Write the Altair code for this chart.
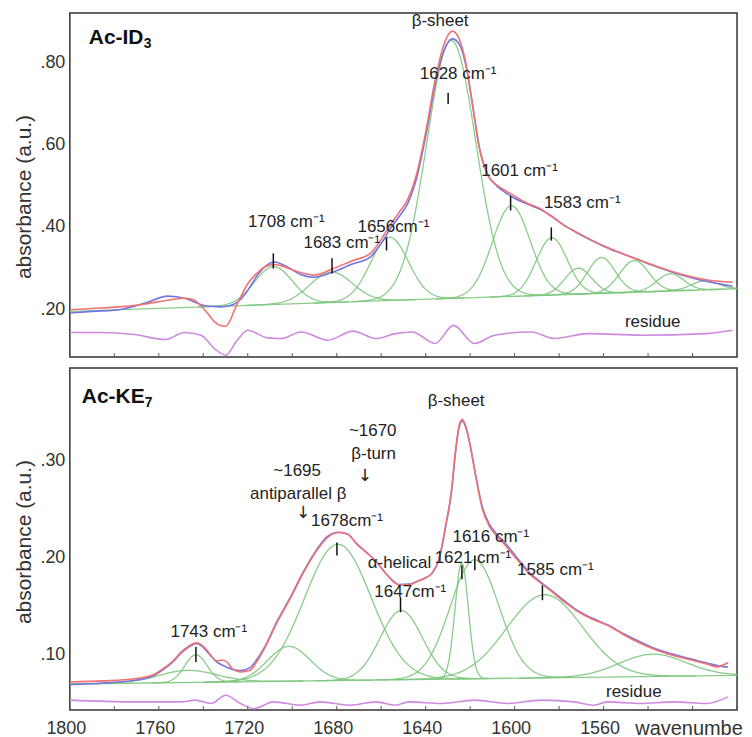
import altair as alt
import numpy as np
import pandas as pd

# ---------------- Top panel: Ac-ID3 ----------------
TOP_W = [1800, 1790, 1778, 1766, 1756, 1748, 1744, 1741, 1738, 1735, 1732, 1730, 1728, 1726, 1723,
         1720, 1716, 1712, 1708, 1702, 1696, 1690, 1682, 1673, 1665, 1660, 1656, 1652, 1648, 1644,
         1640, 1636, 1632, 1628, 1625, 1622, 1619, 1616, 1612, 1608, 1604, 1600, 1594, 1589, 1583,
         1578, 1572, 1566, 1559, 1552, 1545, 1538, 1530, 1522, 1514, 1508, 1502]
TOP_RED = [0.199, 0.202, 0.206, 0.213, 0.222, 0.227, 0.222, 0.208, 0.190, 0.170, 0.160, 0.159, 0.172, 0.198, 0.232,
           0.262, 0.287, 0.304, 0.309, 0.300, 0.289, 0.283, 0.298, 0.318, 0.335, 0.370, 0.405, 0.435, 0.468, 0.530,
           0.630, 0.750, 0.840, 0.876, 0.858, 0.800, 0.700, 0.595, 0.525, 0.502, 0.488, 0.475, 0.457, 0.446, 0.424,
           0.405, 0.387, 0.370, 0.352, 0.336, 0.322, 0.308, 0.293, 0.281, 0.272, 0.268, 0.266]
TOP_BLUE = [0.191, 0.195, 0.199, 0.215, 0.232, 0.226, 0.218, 0.211, 0.208, 0.207, 0.206, 0.207, 0.209, 0.213, 0.225,
            0.246, 0.280, 0.305, 0.315, 0.302, 0.284, 0.278, 0.290, 0.310, 0.327, 0.360, 0.395, 0.425, 0.458, 0.520,
            0.620, 0.740, 0.825, 0.857, 0.845, 0.795, 0.700, 0.597, 0.527, 0.500, 0.483, 0.470, 0.455, 0.444, 0.425,
            0.405, 0.386, 0.369, 0.351, 0.336, 0.322, 0.307, 0.292, 0.279, 0.268, 0.262, 0.256]
TOP_RES_W = [1800, 1786, 1771, 1757, 1748.5, 1741, 1735, 1730, 1724.7, 1720, 1711, 1705, 1696, 1684,
             1672.6, 1662.5, 1653.6, 1646, 1635.7, 1627.5, 1618, 1609, 1592.6, 1582, 1567, 1543, 1514, 1502]
TOP_RES = [0.1435, 0.1435, 0.1387, 0.1265, 0.1435, 0.137, 0.1047, 0.0885, 0.125, 0.149, 0.1305, 0.129, 0.145, 0.125,
           0.147, 0.129, 0.141, 0.145, 0.117, 0.161, 0.117, 0.137, 0.145, 0.129, 0.141, 0.137, 0.141, 0.149]
TOP_BASE_W = [1500, 1800]
TOP_BASE = [0.250, 0.195]
TOP_BAND_C = [1708.5, 1682.5, 1656.3, 1628.5, 1601.5, 1583.3, 1571.4, 1561.0, 1546.2, 1530.0, 1514.5]
TOP_BAND_H = [0.092, 0.074, 0.154, 0.627, 0.220, 0.139, 0.063, 0.087, 0.077, 0.042, 0.022]
TOP_BAND_S = [8.5, 9.5, 8.5, 11.0, 8.5, 7.0, 6.0, 6.2, 6.5, 6.0, 6.0]
TOP_LABEL_TXT = ["β-sheet", "1628 cm⁻¹", "1601 cm⁻¹", "1583 cm⁻¹", "1683 cm⁻¹", "1656cm⁻¹", "1708 cm⁻¹", "residue"]
TOP_LABEL_W = [1633.5, 1625.4, 1597.8, 1569.6, 1677.7, 1654.5, 1702.7, 1537.9]
TOP_LABEL_V = [0.9006, 0.772, 0.537, 0.459, 0.360, 0.399, 0.411, 0.168]
TOP_MARK_W = [1629.9, 1601.8, 1583.5, 1657.6, 1682.1, 1708.5]
TOP_MARK_V1 = [0.726, 0.476, 0.399, 0.375, 0.324, 0.336]
TOP_MARK_V2 = [0.699, 0.440, 0.367, 0.343, 0.287, 0.299]

# ---------------- Bottom panel: Ac-KE7 ----------------
BOT_W = [1800, 1785, 1771, 1763, 1758, 1754, 1750, 1746, 1743, 1740, 1737, 1734, 1731, 1729, 1727,
         1723, 1719, 1716, 1712, 1707, 1701, 1695, 1689, 1684, 1679, 1675, 1671, 1666, 1662, 1657,
         1652, 1647, 1643, 1640, 1637, 1634, 1631, 1628.5, 1626.5, 1625, 1623.5, 1621.5, 1619.5, 1617.5, 1614.5,
         1611.5, 1608, 1604, 1599, 1594, 1588, 1583, 1577, 1571, 1565, 1558, 1551, 1543, 1536, 1529,
         1521, 1514, 1509, 1506, 1504]
BOT_RED = [0.0711, 0.0722, 0.0745, 0.078, 0.085, 0.092, 0.102, 0.109, 0.1117, 0.108, 0.100, 0.093, 0.0935, 0.091, 0.085,
           0.0814, 0.0832, 0.092, 0.108, 0.132, 0.157, 0.184, 0.207, 0.221, 0.2258, 0.224, 0.214, 0.204, 0.195, 0.181,
           0.1715, 0.172, 0.176, 0.179, 0.184, 0.198, 0.233, 0.267, 0.312, 0.336, 0.343, 0.332, 0.310, 0.284, 0.250,
           0.233, 0.222, 0.212, 0.198, 0.1845, 0.173, 0.164, 0.153, 0.1433, 0.136, 0.1296, 0.120, 0.1106, 0.104, 0.0987,
           0.094, 0.090, 0.0866, 0.089, 0.091]
BOT_BLUE = [0.0684, 0.070, 0.0728, 0.077, 0.084, 0.091, 0.101, 0.108, 0.111, 0.107, 0.099, 0.092, 0.088, 0.086, 0.084,
            0.083, 0.086, 0.094, 0.109, 0.133, 0.158, 0.185, 0.208, 0.222, 0.226, 0.224, 0.214, 0.204, 0.195, 0.181,
            0.172, 0.1725, 0.176, 0.179, 0.184, 0.198, 0.232, 0.266, 0.310, 0.334, 0.341, 0.331, 0.310, 0.285, 0.252,
            0.235, 0.224, 0.214, 0.200, 0.186, 0.174, 0.165, 0.154, 0.144, 0.137, 0.130, 0.121, 0.112, 0.105, 0.100,
            0.095, 0.091, 0.088, 0.087, 0.0866]
BOT_RES_W = [1800, 1771, 1750, 1743.7, 1736.6, 1729.9, 1723.2, 1717.3, 1708.3, 1696.4, 1687.5, 1674, 1662.5,
             1653.6, 1647.6, 1632.7, 1617.9, 1603, 1588.1, 1573.2, 1564.3, 1558.3, 1543.4, 1528.6, 1513.7, 1504]
BOT_RES = [0.0523, 0.0505, 0.0505, 0.0523, 0.0488, 0.0574, 0.0488, 0.0436, 0.0505, 0.047, 0.0505, 0.047, 0.0505,
           0.047, 0.0505, 0.0488, 0.0523, 0.0488, 0.0523, 0.0505, 0.047, 0.0505, 0.0488, 0.0505, 0.0488, 0.0557]
BOT_BASE_W = [1500, 1800]
BOT_BASE = [0.078, 0.069]
BOT_BAND_C = [1747.0, 1743.3, 1701.5, 1679.5, 1651.0, 1623.8, 1618.0, 1586.5, 1538.0]
BOT_BAND_H = [0.0125, 0.0285, 0.036, 0.141, 0.0715, 0.120, 0.123, 0.086, 0.023]
BOT_BAND_S = [13.0, 5.0, 9.5, 15.0, 9.5, 3.0, 11.0, 17.0, 15.0]
BOT_LABEL_TXT = ["1743 cm⁻¹", "~1695", "antiparallel β", "1678cm⁻¹", "~1670", "β-turn", "β-sheet", "α-helical",
                 "1621 cm⁻¹", "1616 cm⁻¹", "1647cm⁻¹", "1585 cm⁻¹", "residue"]
BOT_LABEL_W = [1737.5, 1697.8, 1697.3, 1675.4, 1663.8, 1663.4, 1626.3, 1651.8, 1618.75, 1610.7, 1646.9, 1581.7, 1546.4]
BOT_LABEL_V = [0.1227, 0.2897, 0.266, 0.2381, 0.3309, 0.3072, 0.3619, 0.1938, 0.199, 0.2206, 0.1639, 0.1866, 0.0608]
BOT_ARROW_W = [1695.1, 1667.4]
BOT_ARROW_V = [0.2464, 0.2846]
BOT_MARK_W = [1743.3, 1679.9, 1623.7, 1617.9, 1651.3, 1587.5]
BOT_MARK_V1 = [0.1072, 0.2155, 0.1918, 0.2021, 0.1588, 0.1711]
BOT_MARK_V2 = [0.0918, 0.2021, 0.1773, 0.1866, 0.1433, 0.1557]

# x-axis tick positions (wavenumber)
TICK_W = list(range(1500, 1801, 20))

RED = "#f07272"
BLUE = "#7474e0"
GREEN = "#7cc67c"
PURPLE = "#cf8ae0"
FONT = "Liberation Sans"
W_PX = 669


def band_frame(centers, heights, sigmas, base_w, base_v):
    parts = []
    for i, (c, h, s) in enumerate(zip(centers, heights, sigmas)):
        w = np.arange(max(1500.0, c - 4 * s), min(1800.0, c + 4 * s) + 0.01, 0.5)
        b = np.interp(w, base_w, base_v)
        v = b + h * np.exp(-0.5 * ((w - c) / s) ** 2)
        parts.append(pd.DataFrame({"w": w, "v": v, "band": f"b{i}"}))
    parts.append(pd.DataFrame({"w": base_w, "v": base_v, "band": "baseline"}))
    return pd.concat(parts, ignore_index=True)


def x_enc(show_labels):
    kw = dict(values=TICK_W, tickSize=4, tickOpacity=0, domain=False,
              grid=False, title=None, labels=show_labels)
    if show_labels:
        kw.update(labelExpr="(datum.value % 40 == 0 && datum.value >= 1560) ? datum.label : ''",
                  labelFontSize=18, labelPadding=5, labelOffset=-4, labelFlush=False,
                  format="d", labelColor="#333")
    return alt.X("w:Q", scale=alt.Scale(domain=[1500, 1800], reverse=True, nice=False, zero=False),
                 axis=alt.Axis(**kw))


def y_parts(domain, values, title_y):
    scale = alt.Scale(domain=domain, nice=False, zero=False)
    axis = alt.Axis(values=values, ticks=False, domain=False, grid=False,
                    labelExpr="replace(format(datum.value, '.2f'), '0.', '.')",
                    labelFontSize=18, labelPadding=5, labelColor="#333",
                    title="absorbance (a.u.)", titleFontSize=21, titleFontWeight="normal",
                    titleColor="#333", titleX=-45, titleY=title_y, titleBaseline="middle")
    return scale, axis


def panel(w, red, blue, res_w, res, base_w, base_v, bc, bh, bs, lab_t, lab_w, lab_v,
          mk_w, mk_v1, mk_v2, ydom, yvals, title_y, height, show_x_labels,
          name, sub, name_xy, sub_xy, arrows=None):
    X = x_enc(show_x_labels)
    ysc, yax = y_parts(ydom, yvals, title_y)

    def Y(field):
        return alt.Y(field, scale=ysc, axis=yax)

    order = alt.Order("w:Q", sort="descending")
    bands = alt.Chart(band_frame(bc, bh, bs, base_w, base_v)).mark_line(
        color=GREEN, strokeWidth=1.3, opacity=0.9, clip=True).encode(
        x=X, y=Y("v:Q"), detail="band:N", order=order)
    blue_l = alt.Chart(pd.DataFrame({"w": w, "v": blue})).mark_line(
        color=BLUE, strokeWidth=1.6, interpolate="monotone", clip=True).encode(
        x=X, y=Y("v:Q"), order=order)
    red_l = alt.Chart(pd.DataFrame({"w": w, "v": red})).mark_line(
        color=RED, strokeWidth=1.6, interpolate="monotone", clip=True).encode(
        x=X, y=Y("v:Q"), order=order)
    res_l = alt.Chart(pd.DataFrame({"w": res_w, "v": res})).mark_line(
        color=PURPLE, strokeWidth=1.6, interpolate="monotone", clip=True).encode(
        x=X, y=Y("v:Q"), order=order)
    axis_ticks = alt.Chart(pd.DataFrame({"w": TICK_W})).mark_rule(
        color="#555", strokeWidth=1).encode(x=X, y=alt.value(height), y2=alt.value(height - 4))
    marks = alt.Chart(pd.DataFrame({"w": mk_w, "v": mk_v1, "v2": mk_v2})).mark_rule(
        color="#111", strokeWidth=1.5).encode(x=X, y=Y("v:Q"), y2="v2:Q")
    labels = alt.Chart(pd.DataFrame({"w": lab_w, "v": lab_v, "t": lab_t})).mark_text(
        font=FONT, fontSize=17, color="#222", align="center", baseline="middle").encode(
        x=X, y=Y("v:Q"), text="t:N")
    nm = alt.Chart(pd.DataFrame({"t": [name]})).mark_text(
        font=FONT, fontSize=21, fontWeight="bold", color="#111", align="left", baseline="alphabetic").encode(
        x=alt.value(name_xy[0]), y=alt.value(name_xy[1]), text="t:N")
    sb = alt.Chart(pd.DataFrame({"t": [sub]})).mark_text(
        font=FONT, fontSize=14, fontWeight="bold", color="#111", align="left", baseline="alphabetic").encode(
        x=alt.value(sub_xy[0]), y=alt.value(sub_xy[1]), text="t:N")
    layers = [bands, blue_l, red_l, res_l, axis_ticks, marks, labels, nm, sb]
    if arrows is not None:
        arr = alt.Chart(pd.DataFrame({"w": arrows[0], "v": arrows[1], "t": ["↓"] * len(arrows[0])})).mark_text(
            font="DejaVu Sans", fontSize=17, color="#222", align="center", baseline="middle").encode(
            x=X, y=Y("v:Q"), text="t:N")
        layers.append(arr)
    return layers


TOP_H = 345
BOT_H = 343

top_layers = panel(TOP_W, TOP_RED, TOP_BLUE, TOP_RES_W, TOP_RES, TOP_BASE_W, TOP_BASE,
                   TOP_BAND_C, TOP_BAND_H, TOP_BAND_S, TOP_LABEL_TXT, TOP_LABEL_W, TOP_LABEL_V,
                   TOP_MARK_W, TOP_MARK_V1, TOP_MARK_V2, [0.084, 0.92], [0.2, 0.4, 0.6, 0.8], 184, TOP_H, False,
                   "Ac-ID", "3", (19, 31), (74, 35))
top = alt.layer(*top_layers).properties(width=W_PX, height=TOP_H)

bot_layers = panel(BOT_W, BOT_RED, BOT_BLUE, BOT_RES_W, BOT_RES, BOT_BASE_W, BOT_BASE,
                   BOT_BAND_C, BOT_BAND_H, BOT_BAND_S, BOT_LABEL_TXT, BOT_LABEL_W, BOT_LABEL_V,
                   BOT_MARK_W, BOT_MARK_V1, BOT_MARK_V2, [0.042, 0.396], [0.1, 0.2, 0.3], 174, BOT_H, True,
                   "Ac-KE", "7", (12, 35), (75, 39),
                   arrows=(BOT_ARROW_W, BOT_ARROW_V))
wave = alt.Chart(pd.DataFrame({"t": ["wavenumber"]})).mark_text(
    font=FONT, fontSize=20, color="#333", align="left", baseline="middle",
    limit=110, ellipsis="\u200b").encode(
    x=alt.value(567), y=alt.value(362), text="t:N")
bottom = alt.layer(*bot_layers, wave).properties(width=W_PX, height=BOT_H)

chart = alt.vconcat(top, bottom, spacing=5).properties(
    padding={"left": 5, "top": 2, "right": 0, "bottom": 0}
).configure_view(stroke="#333333", strokeWidth=1.5).configure_axis(
    labelFont=FONT, titleFont=FONT
)

chart.save("out.html", embed_options={"renderer": "svg", "actions": False})
